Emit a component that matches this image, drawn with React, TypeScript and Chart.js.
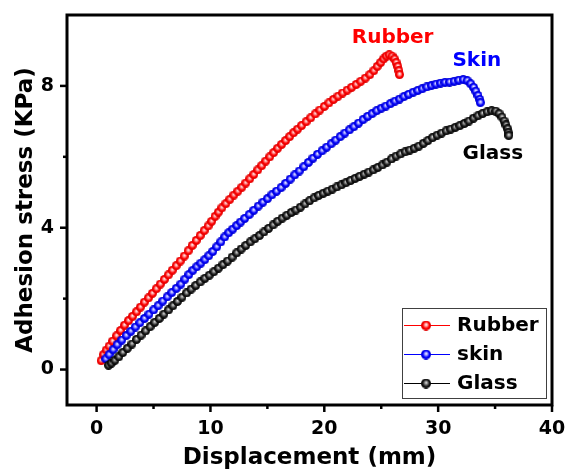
import React, { useEffect, useRef } from 'react';
import { Chart, registerables } from 'chart.js';

Chart.register(...registerables);

// ---------- data ----------
const seriesNames = ['Rubber', 'skin', 'Glass'];
const seriesColors = ['#ff0000', '#0000ff', '#000000'];

const rubberX = [0.4, 0.6, 0.85, 1.1, 1.4, 1.75, 2.1, 2.45, 2.8, 3.15, 3.5, 3.85, 4.2, 4.55, 4.9, 5.25, 5.6, 5.95, 6.3, 6.65, 7.0, 7.35, 7.7, 8.05, 8.4, 8.75, 9.1, 9.45, 9.8, 10.1, 10.4, 10.7, 11.0, 11.35, 11.7, 12.05, 12.4, 12.75, 13.1, 13.45, 13.8, 14.15, 14.5, 14.85, 15.2, 15.55, 15.9, 16.25, 16.6, 16.95, 17.3, 17.65, 18.0, 18.4, 18.8, 19.2, 19.6, 20.0, 20.4, 20.8, 21.2, 21.6, 22.0, 22.4, 22.8, 23.2, 23.6, 24.0, 24.35, 24.65, 24.95, 25.2, 25.45, 25.7, 25.95, 26.15, 26.3, 26.45, 26.55, 26.6];
const rubberY = [0.25, 0.42, 0.55, 0.66, 0.8, 0.95, 1.1, 1.25, 1.38, 1.5, 1.63, 1.76, 1.9, 2.02, 2.15, 2.28, 2.41, 2.54, 2.67, 2.8, 2.93, 3.06, 3.2, 3.35, 3.5, 3.64, 3.78, 3.92, 4.05, 4.18, 4.32, 4.44, 4.56, 4.68, 4.8, 4.92, 5.03, 5.14, 5.26, 5.38, 5.5, 5.63, 5.75, 5.88, 6.0, 6.12, 6.24, 6.35, 6.46, 6.57, 6.68, 6.78, 6.88, 6.99, 7.1, 7.21, 7.32, 7.42, 7.52, 7.62, 7.71, 7.8, 7.88, 7.96, 8.04, 8.13, 8.22, 8.32, 8.43, 8.55, 8.66, 8.76, 8.84, 8.88, 8.84, 8.76, 8.66, 8.55, 8.43, 8.32];

const skinX = [0.8, 1.1, 1.45, 1.8, 2.2, 2.6, 3.0, 3.4, 3.8, 4.2, 4.6, 5.0, 5.4, 5.8, 6.2, 6.6, 7.0, 7.4, 7.75, 8.1, 8.45, 8.8, 9.15, 9.5, 9.85, 10.2, 10.55, 10.9, 11.25, 11.6, 11.95, 12.3, 12.65, 13.0, 13.4, 13.8, 14.2, 14.6, 15.0, 15.4, 15.8, 16.2, 16.6, 17.0, 17.4, 17.8, 18.2, 18.6, 19.0, 19.4, 19.8, 20.2, 20.6, 21.0, 21.4, 21.8, 22.2, 22.6, 23.0, 23.4, 23.8, 24.2, 24.6, 25.0, 25.4, 25.8, 26.2, 26.6, 27.0, 27.4, 27.8, 28.2, 28.6, 29.0, 29.4, 29.8, 30.2, 30.6, 31.0, 31.4, 31.8, 32.2, 32.55, 32.85, 33.1, 33.3, 33.5, 33.65, 33.7];
const skinY = [0.3, 0.42, 0.56, 0.7, 0.83, 0.96, 1.08, 1.2, 1.32, 1.44, 1.56, 1.68, 1.8, 1.93, 2.05, 2.17, 2.29, 2.41, 2.55, 2.68, 2.8, 2.9, 3.0, 3.1, 3.21, 3.33, 3.46, 3.6, 3.74, 3.86, 3.96, 4.06, 4.16, 4.26, 4.37, 4.49, 4.61, 4.72, 4.82, 4.93, 5.03, 5.13, 5.25, 5.37, 5.49, 5.6, 5.72, 5.84, 5.96, 6.07, 6.17, 6.27, 6.37, 6.47, 6.57, 6.67, 6.76, 6.85, 6.95, 7.05, 7.14, 7.22, 7.3, 7.37, 7.43, 7.5, 7.57, 7.63, 7.7, 7.76, 7.82, 7.87, 7.92, 7.97, 8.01, 8.05, 8.08, 8.1, 8.11, 8.13, 8.16, 8.18, 8.15, 8.06, 7.96, 7.85, 7.73, 7.62, 7.53];

const glassX = [1.05, 1.3, 1.6, 1.95, 2.3, 2.7, 3.1, 3.5, 3.9, 4.3, 4.7, 5.1, 5.5, 5.9, 6.3, 6.7, 7.1, 7.5, 7.9, 8.3, 8.7, 9.1, 9.5, 9.9, 10.3, 10.7, 11.1, 11.5, 11.9, 12.3, 12.7, 13.1, 13.5, 13.9, 14.3, 14.7, 15.1, 15.5, 15.9, 16.3, 16.7, 17.1, 17.5, 17.9, 18.3, 18.7, 19.1, 19.5, 19.9, 20.3, 20.7, 21.1, 21.5, 21.9, 22.3, 22.7, 23.1, 23.5, 23.9, 24.3, 24.7, 25.1, 25.5, 25.9, 26.3, 26.7, 27.1, 27.5, 27.9, 28.3, 28.7, 29.1, 29.5, 29.9, 30.3, 30.7, 31.1, 31.5, 31.9, 32.3, 32.7, 33.1, 33.5, 33.9, 34.3, 34.7, 35.05, 35.35, 35.6, 35.8, 35.95, 36.1, 36.15, 36.2];
const glassY = [0.12, 0.18, 0.26, 0.36, 0.48, 0.6, 0.72, 0.85, 0.97, 1.09, 1.21, 1.33, 1.44, 1.56, 1.68, 1.8, 1.92, 2.04, 2.16, 2.27, 2.37, 2.47, 2.57, 2.66, 2.76, 2.86, 2.96, 3.06, 3.17, 3.29, 3.4, 3.5, 3.6, 3.69, 3.78, 3.88, 3.98, 4.08, 4.18, 4.27, 4.35, 4.43, 4.5, 4.58, 4.67, 4.76, 4.84, 4.91, 4.97, 5.03, 5.09, 5.15, 5.21, 5.27, 5.33, 5.39, 5.45, 5.51, 5.57, 5.63, 5.7, 5.77, 5.85, 5.94, 6.02, 6.08, 6.14, 6.19, 6.24, 6.3, 6.38, 6.46, 6.54, 6.61, 6.67, 6.73, 6.78, 6.83, 6.88, 6.94, 7.01, 7.09, 7.16, 7.22, 7.27, 7.3, 7.29, 7.22, 7.12, 7.01, 6.9, 6.79, 6.68, 6.6];

const xMajorTicks = [0, 10, 20, 30, 40];
const xMinorTicks = [5, 15, 25, 35];
const yMajorTicks = [0, 4, 8];
const yMinorTicks = [2, 6];

const xTitle = 'Displacement (mm)';
const yTitle = 'Adhesion stress (KPa)';

const labelTexts = ['Rubber', 'Skin', 'Glass'];
const labelAnchors = [
  [26.0, 9.36],
  [33.4, 8.71],
  [34.8, 6.08],
];

const FONT = "'DejaVu Sans', sans-serif";

function makeSphere(hi: string, mid: string, body: string, edge: string, d: number) {
  const c = document.createElement('canvas');
  c.width = d;
  c.height = d;
  const g = c.getContext('2d')!;
  const r = d / 2;
  const grad = g.createRadialGradient(r * 1.05, r * 0.8, 0, r, r, r);
  grad.addColorStop(0, hi);
  grad.addColorStop(0.3, mid);
  grad.addColorStop(0.65, body);
  grad.addColorStop(1, edge);
  g.fillStyle = grad;
  g.beginPath();
  g.arc(r, r, r, 0, Math.PI * 2);
  g.fill();
  return c;
}

function spheres(d: number) {
  return [
    makeSphere('#ffffff', '#ff9a9a', '#ff0000', '#d80000', d),
    makeSphere('#ffffff', '#9a9aff', '#0000ff', '#0000c8', d),
    makeSphere('#eeeeee', '#8a8a8a', '#1a1a1a', '#000000', d),
  ];
}

export default function App() {
  const ref = useRef<HTMLCanvasElement | null>(null);

  useEffect(() => {
    if (!ref.current) return;
    const pts = spheres(9);
    const legendPts = spheres(10);
    const xs = [rubberX, skinX, glassX];
    const ys = [rubberY, skinY, glassY];

    const framePlugin = {
      id: 'frame',
      beforeDatasetsDraw(chart: any) {
        const { ctx, chartArea: a, scales } = chart;
        const x = scales.x;
        const y = scales.y;
        ctx.save();
        ctx.strokeStyle = '#000';
        ctx.lineWidth = 2.5;
        const seg = (x1: number, y1: number, x2: number, y2: number) => {
          ctx.beginPath();
          ctx.moveTo(x1, y1);
          ctx.lineTo(x2, y2);
          ctx.stroke();
        };
        xMajorTicks.forEach((v) => {
          const p = x.getPixelForValue(v);
          seg(p, a.bottom, p, a.bottom + 7);
        });
        xMinorTicks.forEach((v) => {
          const p = x.getPixelForValue(v);
          seg(p, a.bottom, p, a.bottom + 4);
        });
        yMajorTicks.forEach((v) => {
          const p = y.getPixelForValue(v);
          seg(a.left, p, a.left - 7, p);
        });
        yMinorTicks.forEach((v) => {
          const p = y.getPixelForValue(v);
          seg(a.left, p, a.left - 4, p);
        });
        ctx.lineWidth = 3;
        ctx.strokeRect(a.left, a.top, a.right - a.left, a.bottom - a.top);
        ctx.restore();
      },
      afterDraw(chart: any) {
        const { ctx, scales } = chart;
        const x = scales.x;
        const y = scales.y;
        ctx.save();
        ctx.font = `bold 20px ${FONT}`;
        ctx.textAlign = 'center';
        ctx.textBaseline = 'middle';
        labelTexts.forEach((t, i) => {
          ctx.fillStyle = seriesColors[i];
          ctx.fillText(t, x.getPixelForValue(labelAnchors[i][0]), y.getPixelForValue(labelAnchors[i][1]));
        });
        const bx = 402.5, by = 308.5, bw = 144, bh = 90;
        ctx.fillStyle = '#fff';
        ctx.fillRect(bx, by, bw, bh);
        ctx.strokeStyle = '#404040';
        ctx.lineWidth = 1;
        ctx.strokeRect(bx, by, bw, bh);
        seriesNames.forEach((name, i) => {
          const cy = 325 + i * 29;
          ctx.strokeStyle = seriesColors[i];
          ctx.lineWidth = 1;
          ctx.beginPath();
          ctx.moveTo(404, cy + 0.5);
          ctx.lineTo(450, cy + 0.5);
          ctx.stroke();
          const s = legendPts[i];
          ctx.drawImage(s, 426 - s.width / 2, cy - s.height / 2 + 0.5);
          ctx.fillStyle = '#000';
          ctx.textAlign = 'left';
          ctx.font = `bold 20px ${FONT}`;
          ctx.fillText(name, 457, cy + 1);
        });
        ctx.restore();
      },
    };

    const zeroPad = (s: any) => {
      s.paddingTop = 0;
      s.paddingBottom = 0;
      s.paddingLeft = 0;
      s.paddingRight = 0;
    };

    const chart = new Chart(ref.current, {
      type: 'scatter',
      data: {
        datasets: seriesNames.map((name, i) => ({
          label: name,
          data: xs[i].map((v, j) => ({ x: v, y: ys[i][j] })),
          showLine: true,
          borderColor: seriesColors[i],
          borderWidth: 1,
          pointStyle: pts[i] as any,
          pointRadius: 4.5,
          order: 2 - i,
        })),
      },
      options: {
        animation: false,
        responsive: false,
        maintainAspectRatio: false,
        layout: { padding: { top: 15, right: 14, left: 0, bottom: 0 } },
        plugins: { legend: { display: false }, tooltip: { enabled: false } },
        scales: {
          x: {
            type: 'linear',
            min: -2.6,
            max: 40,
            afterBuildTicks: (s: any) => {
              s.ticks = xMajorTicks.map((v) => ({ value: v }));
            },
            afterFit: (s: any) => {
              s.height = 67;
              zeroPad(s);
            },
            grid: { display: false, drawTicks: false },
            border: { display: false },
            ticks: {
              color: '#000',
              font: { family: FONT, size: 19, weight: 'bold' },
              padding: 13,
              maxRotation: 0,
              autoSkip: false,
              callback: (v: any) => String(v),
            },
            title: {
              display: true,
              text: xTitle,
              color: '#000',
              font: { family: FONT, size: 23, weight: 'bold' },
              padding: { top: 0, bottom: 0 },
            },
          },
          y: {
            type: 'linear',
            min: -1,
            max: 10,
            afterBuildTicks: (s: any) => {
              s.ticks = yMajorTicks.map((v) => ({ value: v }));
            },
            afterFit: (s: any) => {
              s.width = 67;
              zeroPad(s);
            },
            grid: { display: false, drawTicks: false },
            border: { display: false },
            ticks: {
              color: '#000',
              font: { family: FONT, size: 19, weight: 'bold' },
              padding: 13,
              autoSkip: false,
              callback: (v: any) => String(v),
            },
            title: {
              display: true,
              text: yTitle,
              color: '#000',
              font: { family: FONT, size: 23, weight: 'bold' },
              padding: { top: 12, bottom: 0 },
            },
          },
        },
      },
      plugins: [framePlugin],
    });
    return () => chart.destroy();
  }, []);

  return (
    <div style={{ position: 'absolute', left: 0, top: 0, width: 566, height: 472, background: '#fff' }}>
      <canvas ref={ref} width={566} height={472} style={{ display: 'block' }} />
    </div>
  );
}
